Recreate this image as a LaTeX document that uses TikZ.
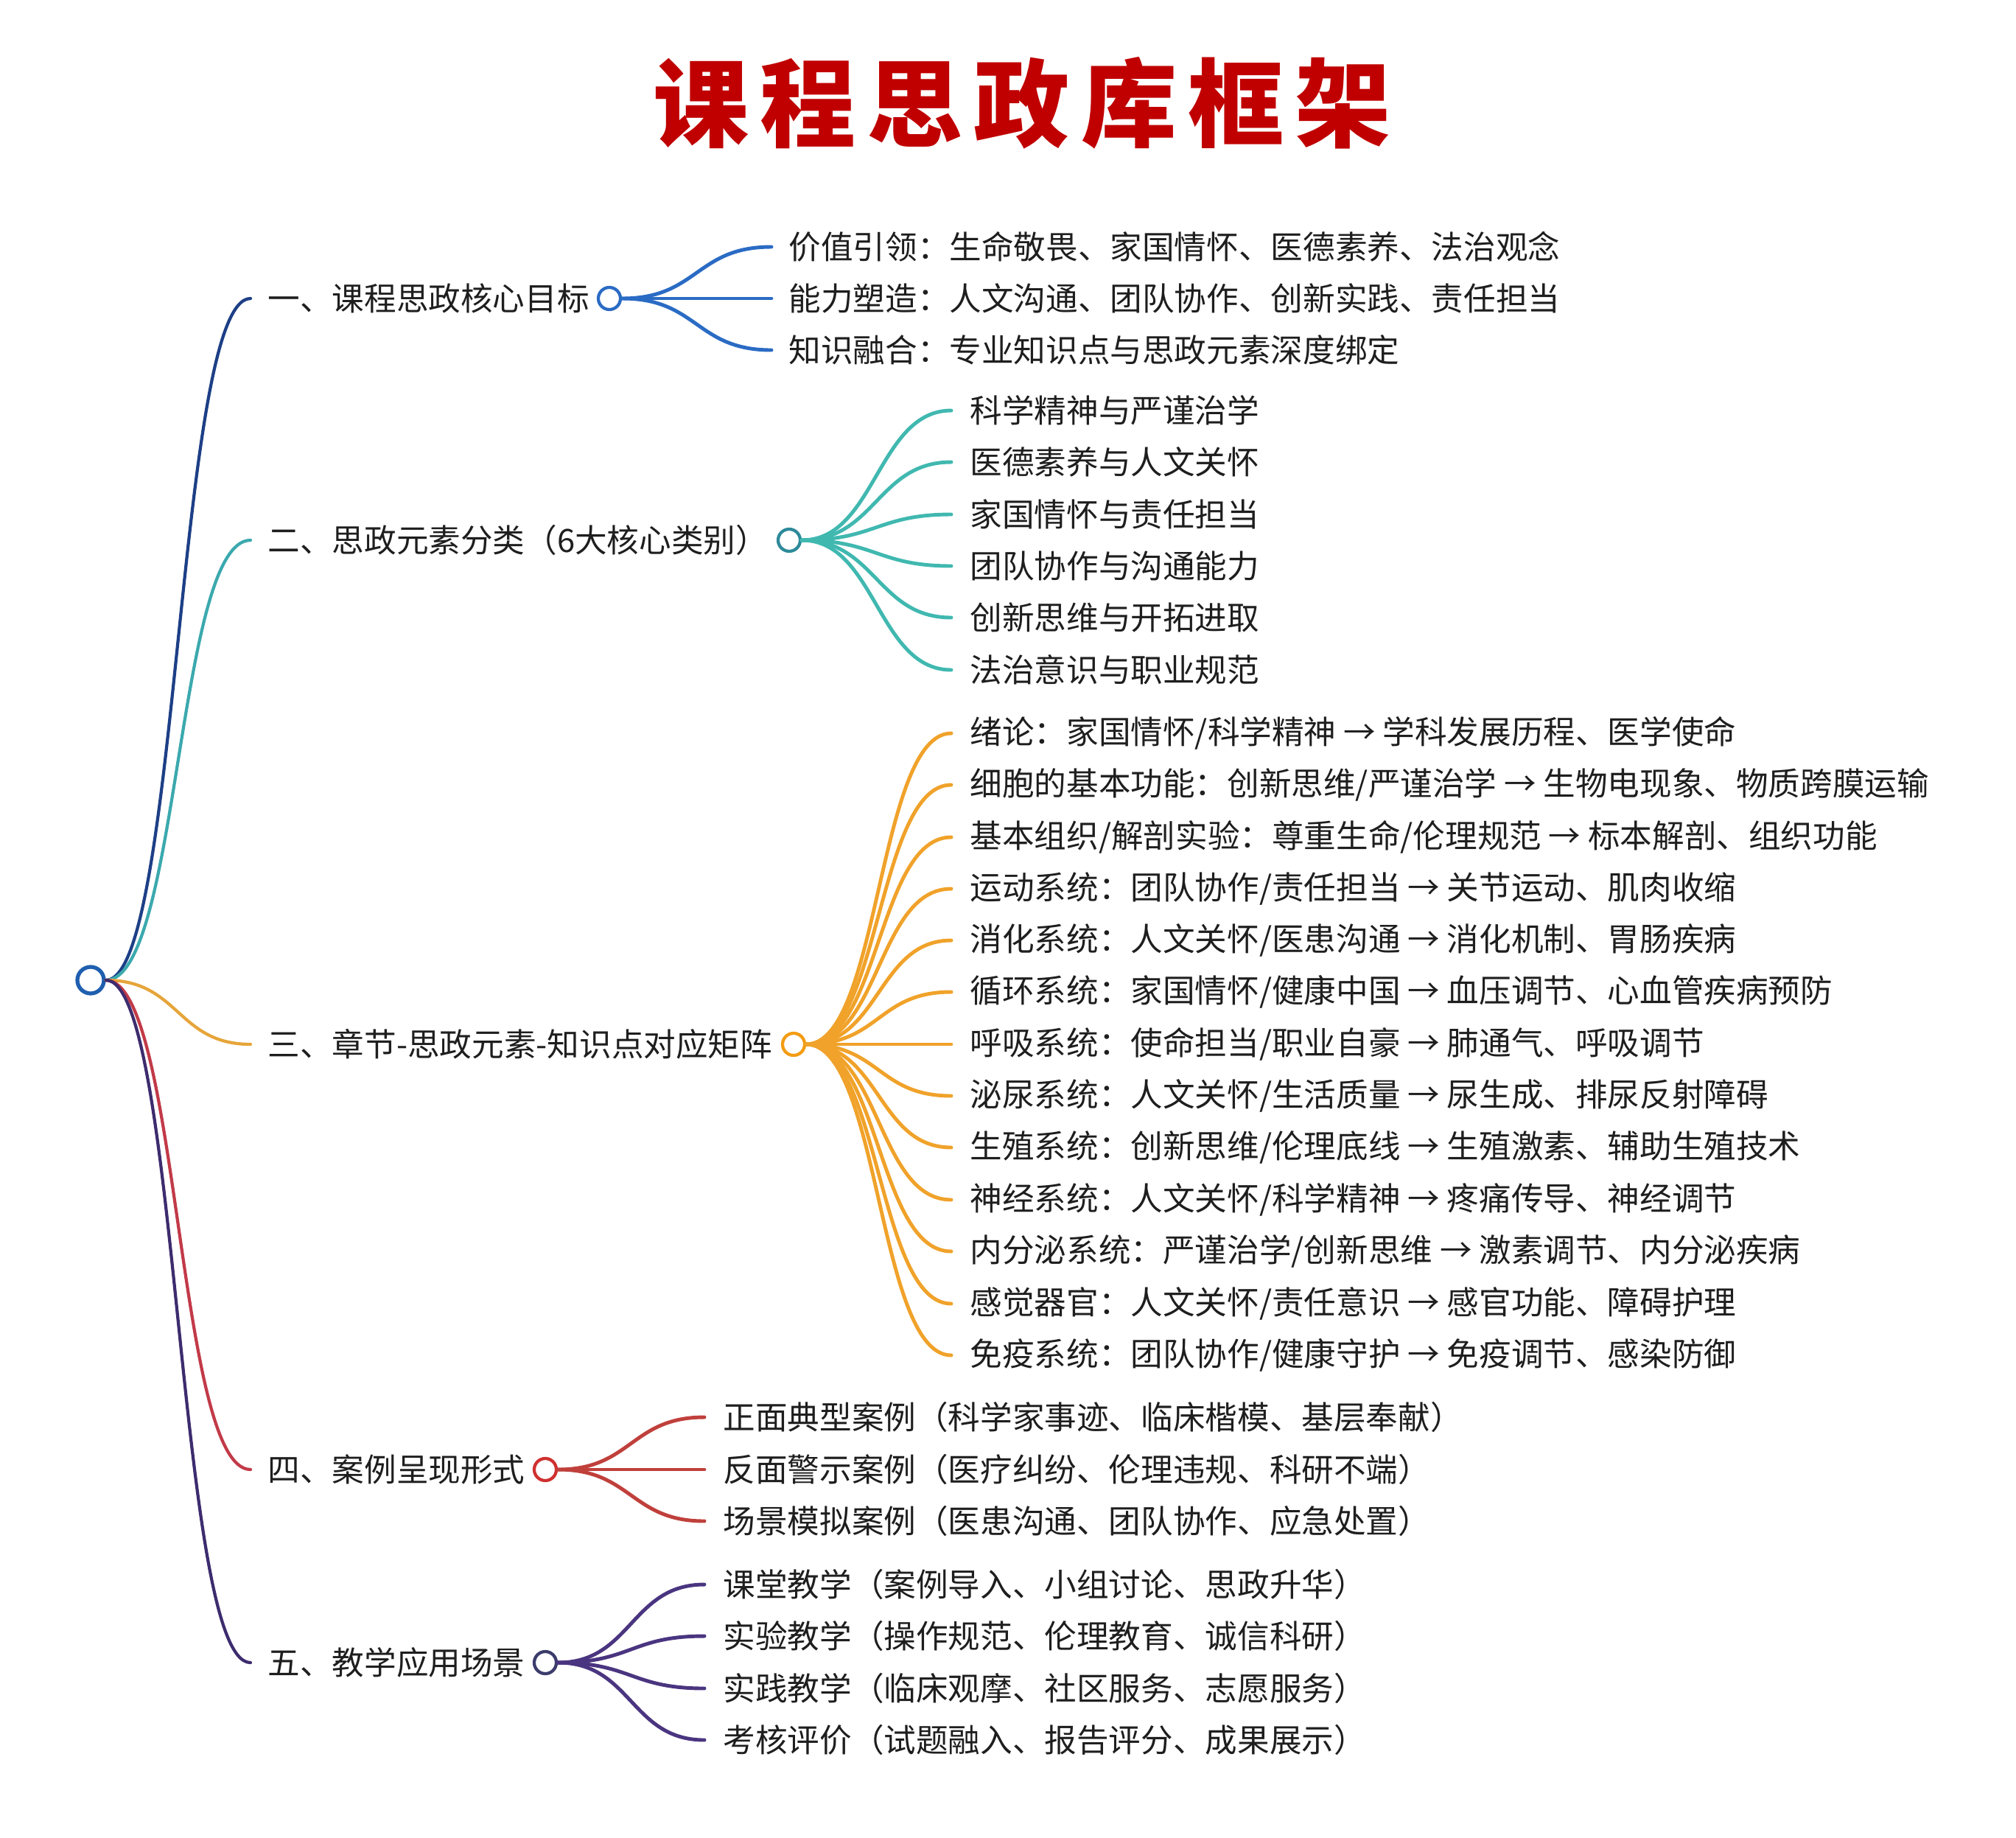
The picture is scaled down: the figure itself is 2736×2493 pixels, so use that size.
\documentclass[tikz,border=0pt]{standalone}
\usepackage{fontspec}
\setmainfont{Noto Sans CJK SC}
\usetikzlibrary{calc}
\definecolor{txt}{HTML}{1E1E1E}
\definecolor{ttl}{HTML}{C00000}
\definecolor{cA}{HTML}{1D3F86}
\definecolor{cAc}{HTML}{2A6BC4}
\definecolor{cB}{HTML}{3BA9AE}
\definecolor{cBc}{HTML}{40B8B0}
\definecolor{cBh}{HTML}{2E8A9A}
\definecolor{cC}{HTML}{E6A53A}
\definecolor{cCc}{HTML}{F0A22A}
\definecolor{cCh}{HTML}{F39C12}
\definecolor{cD}{HTML}{C23A48}
\definecolor{cDc}{HTML}{C0403C}
\definecolor{cDh}{HTML}{D03030}
\definecolor{cE}{HTML}{3D2C6E}
\definecolor{cEc}{HTML}{4A3580}
\definecolor{cEh}{HTML}{3C3C6B}
\definecolor{cR}{HTML}{1F5FAF}
\begin{document}
\begin{tikzpicture}[x=0.01cm,y=-0.01cm,
  lbl/.style={anchor=west, inner sep=0pt, text=txt, font=\fontsize{12.4pt}{15pt}\selectfont},
  hub/.style={circle, fill=white, line width=1.2pt, minimum size=0.30cm, inner sep=0pt},
  br/.style={line width=1.2pt, line cap=round},
  sub/.style={line width=1.4pt, line cap=round}]
\useasboundingbox (0,0) rectangle (2736,2493);
% title
\node[text=ttl, font=\fontsize{37pt}{42pt}\selectfont\bfseries] (title) at (1387,140)
  {课\hspace{0.15cm}程\hspace{0.15cm}思\hspace{0.15cm}政\hspace{0.15cm}库\hspace{0.15cm}框\hspace{0.15cm}架};
% root
\node[circle, draw=cR, fill=white, line width=1.5pt, minimum size=0.36cm, inner sep=0pt] (root) at (123,1330) {};
% level 1 labels
\node[lbl] (L1) at (363,405) {一、课程思政核心目标};
\node[lbl] (L2) at (363,733) {二、思政元素分类（6大核心类别）};
\node[lbl] (L3) at (363,1417) {三、章节-思政元素-知识点对应矩阵};
\node[lbl] (L4) at (363,1994) {四、案例呈现形式};
\node[lbl] (L5) at (363,2256) {五、教学应用场景};
% hubs
\node[hub, draw=cAc] (H1) at (827,405) {};
\node[hub, draw=cBh] (H2) at (1071,733) {};
\node[hub, draw=cCh] (H3) at (1077,1417) {};
\node[hub, draw=cDh] (H4) at (740,1994) {};
\node[hub, draw=cEh] (H5) at (740,2256) {};
% level 1 connectors
\foreach \n/\c in {L1/cA,L2/cB,L3/cC,L4/cD,L5/cE}{
  \draw[br, draw=\c] (root.east) .. controls +(100,0) and +(-100,0) .. ([xshift=-0.23cm]\n.west);
}
% group 1
\node[lbl] (A1) at (1070,335) {价值引领：生命敬畏、家国情怀、医德素养、法治观念};
\node[lbl] (A2) at (1070,405) {能力塑造：人文沟通、团队协作、创新实践、责任担当};
\node[lbl] (A3) at (1070,475) {知识融合：专业知识点与思政元素深度绑定};
\foreach \n in {A1,A2,A3}{
  \draw[sub, draw=cAc] (H1.east) .. controls +(103,0) and +(-103,0) .. ([xshift=-0.23cm]\n.west);
}
% group 2
\node[lbl] (B1) at (1316,557) {科学精神与严谨治学};
\node[lbl] (B2) at (1316,627) {医德素养与人文关怀};
\node[lbl] (B3) at (1316,698) {家国情怀与责任担当};
\node[lbl] (B4) at (1316,768) {团队协作与沟通能力};
\node[lbl] (B5) at (1316,838) {创新思维与开拓进取};
\node[lbl] (B6) at (1316,909) {法治意识与职业规范};
\foreach \n in {B1,B2,B3,B4,B5,B6}{
  \draw[sub, draw=cBc] (H2.east) .. controls +(100,0) and +(-100,0) .. ([xshift=-0.25cm]\n.west);
}
% group 3
\node[lbl] (C1) at (1316,995) {绪论：家国情怀/科学精神 → 学科发展历程、医学使命};
\node[lbl] (C2) at (1316,1065) {细胞的基本功能：创新思维/严谨治学 → 生物电现象、物质跨膜运输};
\node[lbl] (C3) at (1316,1136) {基本组织/解剖实验：尊重生命/伦理规范 → 标本解剖、组织功能};
\node[lbl] (C4) at (1316,1206) {运动系统：团队协作/责任担当 → 关节运动、肌肉收缩};
\node[lbl] (C5) at (1316,1276) {消化系统：人文关怀/医患沟通 → 消化机制、胃肠疾病};
\node[lbl] (C6) at (1316,1346) {循环系统：家国情怀/健康中国 → 血压调节、心血管疾病预防};
\node[lbl] (C7) at (1316,1417) {呼吸系统：使命担当/职业自豪 → 肺通气、呼吸调节};
\node[lbl] (C8) at (1316,1487) {泌尿系统：人文关怀/生活质量 → 尿生成、排尿反射障碍};
\node[lbl] (C9) at (1316,1557) {生殖系统：创新思维/伦理底线 → 生殖激素、辅助生殖技术};
\node[lbl] (C10) at (1316,1628) {神经系统：人文关怀/科学精神 → 疼痛传导、神经调节};
\node[lbl] (C11) at (1316,1698) {内分泌系统：严谨治学/创新思维 → 激素调节、内分泌疾病};
\node[lbl] (C12) at (1316,1769) {感觉器官：人文关怀/责任意识 → 感官功能、障碍护理};
\node[lbl] (C13) at (1316,1839) {免疫系统：团队协作/健康守护 → 免疫调节、感染防御};
\foreach \n in {C1,C2,C3,C4,C5,C6,C7,C8,C9,C10,C11,C12,C13}{
  \draw[sub, draw=cCc] (H3.east) .. controls +(100,0) and +(-100,0) .. ([xshift=-0.25cm]\n.west);
}
% group 4
\node[lbl] (D1) at (981,1923) {正面典型案例（科学家事迹、临床楷模、基层奉献）};
\node[lbl] (D2) at (981,1994) {反面警示案例（医疗纠纷、伦理违规、科研不端）};
\node[lbl] (D3) at (981,2064) {场景模拟案例（医患沟通、团队协作、应急处置）};
\foreach \n in {D1,D2,D3}{
  \draw[sub, draw=cDc] (H4.east) .. controls +(100,0) and +(-100,0) .. ([xshift=-0.25cm]\n.west);
}
% group 5
\node[lbl] (E1) at (981,2150) {课堂教学（案例导入、小组讨论、思政升华）};
\node[lbl] (E2) at (981,2220) {实验教学（操作规范、伦理教育、诚信科研）};
\node[lbl] (E3) at (981,2291) {实践教学（临床观摩、社区服务、志愿服务）};
\node[lbl] (E4) at (981,2361) {考核评价（试题融入、报告评分、成果展示）};
\foreach \n in {E1,E2,E3,E4}{
  \draw[sub, draw=cEc] (H5.east) .. controls +(100,0) and +(-100,0) .. ([xshift=-0.25cm]\n.west);
}
\end{tikzpicture}
\end{document}
